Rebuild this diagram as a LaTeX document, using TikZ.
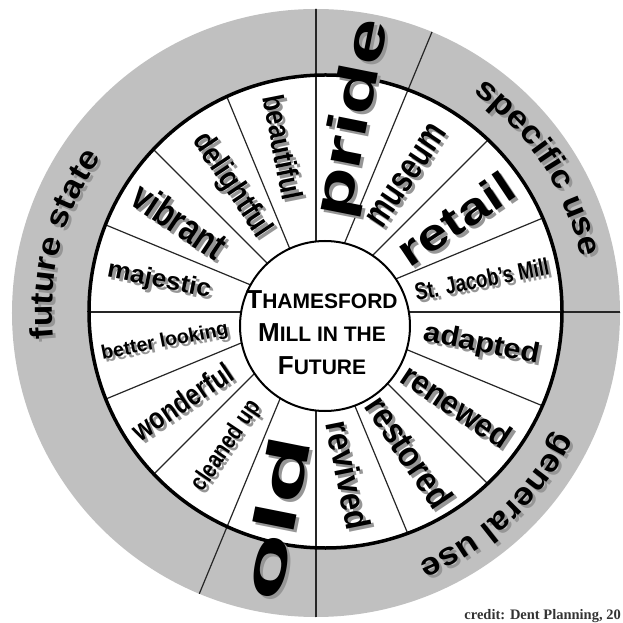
\documentclass[tikz,border=0pt]{standalone}
\usepackage{fontspec}
\usepackage{graphicx}
\setmainfont{Liberation Sans}
\newfontfamily\ringfont[FakeStretch=1.1]{Liberation Sans}
\newfontfamily\creditfont{Liberation Serif}
\usetikzlibrary{decorations.text}
\definecolor{ringgray}{RGB}{192,192,192}
\definecolor{shadowgray}{RGB}{150,150,150}

\begin{document}
\begin{tikzpicture}[x=1pt,y=1pt,
  word/.style={inner sep=0pt},
  wordshadow/.style={inner sep=0pt, text=shadowgray},
  divider/.style={line width=1.2pt, black!85},
  title/.style={align=center, font=\bfseries\fontsize{21}{33}\selectfont},
  credit/.style={font=\creditfont\bfseries\fontsize{14.5}{14.5}\selectfont, text=black!80, inner sep=0pt}]

\useasboundingbox (-316,-311) rectangle (306,312);

% word in a sector, with its shadow: angle, radius, rotation, size, stretch, name, text
\def\spoke#1#2#3#4#5#6#7{%
  \node[wordshadow, rotate=#3, font=\bfseries\fontsize{#4}{#4}\selectfont] (#6-sh) at ([shift={(3,-3)}]#1:#2) {\scalebox{#5}[1]{#7}};
  \node[word, rotate=#3, font=\bfseries\fontsize{#4}{#4}\selectfont] (#6) at (#1:#2) {\scalebox{#5}[1]{#7}};}

% big initial for the title, type of the ring labels
\def\capT#1{{\fontsize{26}{33}\selectfont #1}}
\def\ringtext{\ringfont\bfseries\fontsize{32}{32}\selectfont}

% grey ring and white ring
\fill[ringgray] (0,-1) circle (304);
\fill[white] (9.5,0.5) circle (236.5);

% dividers running through both rings
\begin{scope}
\clip (0,-1) circle (304);
\draw[divider] (0,0) -- (90:320);
\draw[divider] (0,0) -- (67.5:320);
\draw[divider] (0,0) -- (0:320);
\draw[divider] (0,0) -- (-90:320);
\draw[divider] (0,0) -- (-112.5:320);
\end{scope}

% dividers of the white ring only
\begin{scope}
\clip (9.5,0.5) circle (236.5);
\draw[divider] (0,0) -- (112.5:250);
\draw[divider] (0,0) -- (135:250);
\draw[divider] (0,0) -- (157.5:250);
\draw[divider] (0,0) -- (180:250);
\draw[divider] (0,0) -- (202.5:250);
\draw[divider] (0,0) -- (225:250);
\draw[divider] (0,0) -- (45:250);
\draw[divider] (0,0) -- (22.5:250);
\draw[divider] (0,0) -- (-22.5:250);
\draw[divider] (0,0) -- (-45:250);
\draw[divider] (0,0) -- (-67.5:250);
\end{scope}

\draw[line width=3.5pt] (9.5,0.5) circle (236.5);

% hub
\draw[line width=2pt, fill=white] (9,-14) circle (85);
\node[title] (title) at (6,-21) {\capT{T}HAMESFORD\\\capT{M}ILL IN THE\\\capT{F}UTURE};

% left half, reading inwards
\spoke{101.25}{168}{-78.75}{30}{0.85}{beautiful}{beautiful}
\spoke{123.75}{152}{-56.25}{31}{0.85}{delightful}{delightful}
\spoke{146.25}{164}{-33.75}{40}{0.78}{vibrant}{vibrant}
\spoke{168.75}{160}{-11.25}{25}{1.05}{majestic}{majestic}
\spoke{191.25}{154}{11.25}{19.5}{1}{betterlooking}{better looking}
\spoke{213.75}{161}{33.75}{30}{0.8}{wonderful}{wonderful}
\spoke{236.25}{161}{56.25}{25}{0.8}{cleanedup}{cleaned up}
\spoke{258.75}{210}{78.75}{58}{1.9}{old}{old}

% right half, reading outwards
\spoke{-78.75}{166}{-78.75}{35}{0.9}{revived}{revived}
\spoke{-56.25}{168}{-56.25}{36}{0.88}{restored}{restored}
\spoke{-33.75}{169}{-33.75}{33}{0.93}{renewed}{renewed}
\spoke{-11.25}{169}{-11.25}{28}{1.1}{adapted}{adapted}
\spoke{11.25}{169}{11.25}{24}{0.78}{stjacobs}{St. Jacob's Mill}
\spoke{33.75}{168}{33.75}{44}{1.25}{retail}{retail}
\spoke{56.25}{164}{56.25}{38}{0.75}{museum}{museum}
\spoke{78.75}{197}{78.75}{55}{1.5}{pride}{pride}

% ring labels, shadow first
\path[decorate, shift={(3,-3)}, decoration={text along path, text color=shadowgray, text align=center, text={|\ringtext|future state}}]
  (200:264) arc[start angle=200, end angle=130, radius=264];
\path[decorate, decoration={text along path, text align=center, text={|\ringtext|future state}}]
  (200:264) arc[start angle=200, end angle=130, radius=264];

\path[decorate, shift={(3,-3)}, decoration={text along path, text color=shadowgray, text align=center, text={|\ringtext|specific use}}]
  (68:270) arc[start angle=68, end angle=-2, radius=270];
\path[decorate, decoration={text along path, text align=center, text={|\ringtext|specific use}}]
  (68:270) arc[start angle=68, end angle=-2, radius=270];

\path[decorate, shift={(3,-3)}, decoration={text along path, text color=shadowgray, text align=center, text={|\ringtext|general use}}]
  (-2:270) arc[start angle=-2, end angle=-92, radius=270];
\path[decorate, decoration={text along path, text align=center, text={|\ringtext|general use}}]
  (-2:270) arc[start angle=-2, end angle=-92, radius=270];

% credit line
\node[credit, anchor=base east] (credit) at (305,-307) {credit: Dent Planning, 20};

\end{tikzpicture}
\end{document}
